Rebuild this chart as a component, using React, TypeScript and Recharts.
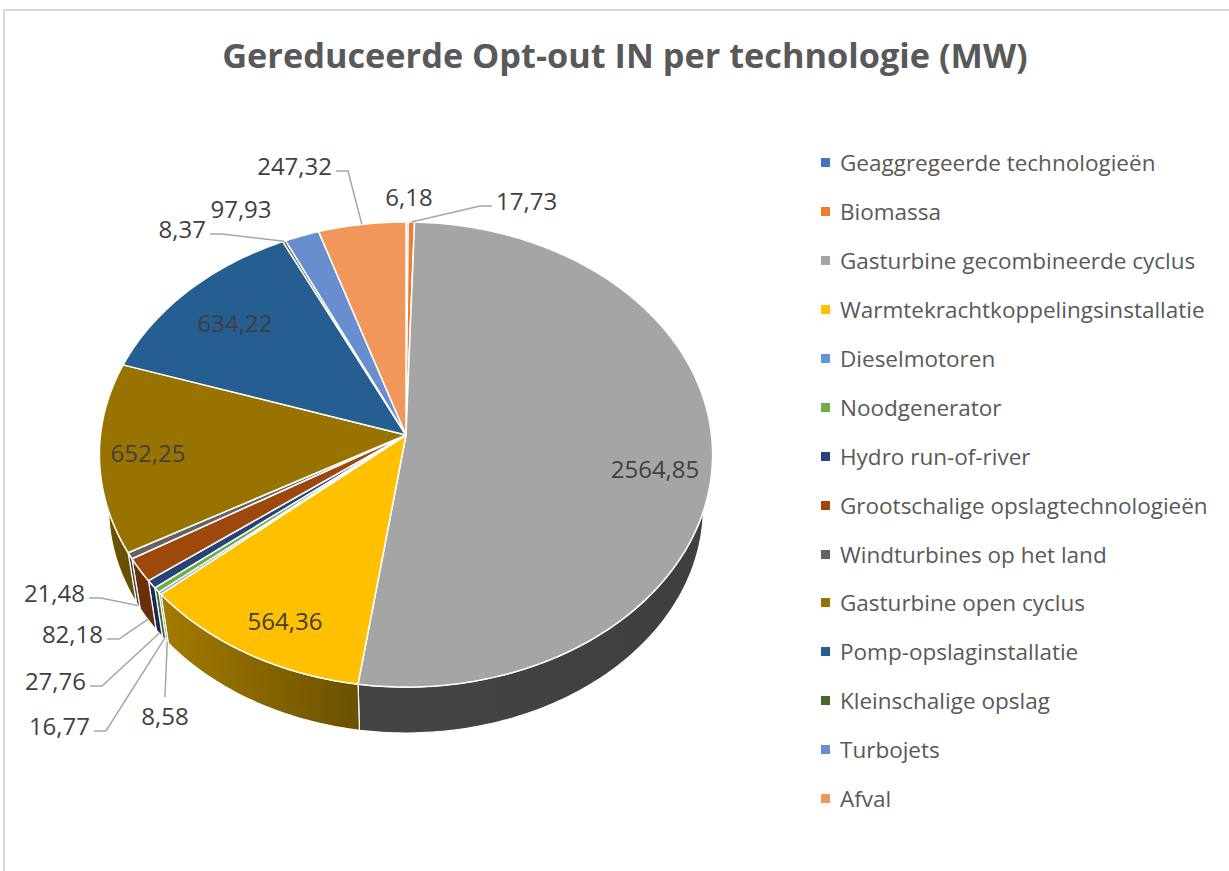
import { PieChart, Pie, Legend } from 'recharts';

const technologies = [
  'Geaggregeerde technologieën',
  'Biomassa',
  'Gasturbine gecombineerde cyclus',
  'Warmtekrachtkoppelingsinstallatie',
  'Dieselmotoren',
  'Noodgenerator',
  'Hydro run-of-river',
  'Grootschalige opslagtechnologieën',
  'Windturbines op het land',
  'Gasturbine open cyclus',
  'Pomp-opslaginstallatie',
  'Kleinschalige opslag',
  'Turbojets',
  'Afval',
];
const capacityMW = [6.18, 17.73, 2564.85, 564.36, 8.58, 16.77, 27.76, 82.18, 21.48, 652.25, 634.22, 8.37, 97.93, 247.32];
const sliceColors = [
  '#4472C4', '#ED7D31', '#A5A5A5', '#FFC000', '#5B9BD5', '#70AD47', '#264478',
  '#9E480E', '#636363', '#997300', '#255E91', '#43682B', '#698ED0', '#F1975A',
];

const rows = technologies.map((name, i) => ({ name, value: capacityMW[i] }));

// where each data label sits, relative to the pie centre (Excel placed them by hand)
type Leader = 'none' | 'start' | 'end' | 'up';
const labelLayout: { dx: number; dy: number; anchor: 'middle' | 'start' | 'end'; leader: Leader }[] = [
  { dx: 3, dy: -239, anchor: 'middle', leader: 'none' },
  { dx: 90, dy: -235, anchor: 'start', leader: 'start' },
  { dx: 249, dy: 33, anchor: 'middle', leader: 'none' },
  { dx: -121, dy: 185, anchor: 'middle', leader: 'none' },
  { dx: -241, dy: 280, anchor: 'middle', leader: 'up' },
  { dx: -316, dy: 290, anchor: 'end', leader: 'end' },
  { dx: -320, dy: 245, anchor: 'end', leader: 'end' },
  { dx: -303, dy: 198, anchor: 'end', leader: 'end' },
  { dx: -321, dy: 157, anchor: 'end', leader: 'end' },
  { dx: -258, dy: 17, anchor: 'middle', leader: 'none' },
  { dx: -171, dy: -113, anchor: 'middle', leader: 'none' },
  { dx: -200, dy: -207, anchor: 'end', leader: 'end' },
  { dx: -165, dy: -227, anchor: 'middle', leader: 'none' },
  { dx: -74, dy: -270, anchor: 'end', leader: 'end' },
];

const FONT = '"Open Sans", sans-serif';
const TILT = 0.7558;
const PERSP = 0.084;
const DEPTH = 53.5;
const BASE_SCALE = 0.97;

const fmt = (v: number) => v.toFixed(2).replace('.', ',');

function shade(hex: string, f: number) {
  const n = parseInt(hex.slice(1), 16);
  const c = [(n >> 16) & 255, (n >> 8) & 255, n & 255].map((v) => Math.round(v * f));
  return `rgb(${c[0]},${c[1]},${c[2]})`;
}

// perspective projection of a point on the pie rim (top or base)
function rim(cx: number, cy: number, r: number, deg: number, base = false): [number, number] {
  const a = (deg * Math.PI) / 180;
  const X = Math.cos(a);
  const Z = Math.sin(a);
  const w = 1 + PERSP * Z;
  const s = base ? BASE_SCALE : 1;
  return [cx + ((r * X) / w) * s, cy + (base ? DEPTH : 0) - ((r * TILT * Z) / w) * s];
}

function arc(cx: number, cy: number, r: number, from: number, to: number, base = false) {
  const n = Math.max(2, Math.ceil(Math.abs(to - from)) + 1);
  const pts: string[] = [];
  for (let k = 0; k < n; k++) {
    const d = from + ((to - from) * k) / (n - 1);
    const [x, y] = rim(cx, cy, r, d, base);
    pts.push(`${x.toFixed(2)},${y.toFixed(2)}`);
  }
  return pts;
}

const renderWall = (p: any) => {
  const { cx, cy, outerRadius, startAngle, endAngle, index } = p;
  const hi = Math.min(startAngle, 0);
  const lo = Math.max(endAngle, -180);
  if (lo >= hi) return <g key={`w${index}`} />;
  const top = arc(cx, cy, outerRadius, hi, lo);
  const bottom = arc(cx, cy, outerRadius, lo, hi, true);
  const id = `wall${index}`;
  const color = sliceColors[index];
  return (
    <g key={id}>
      <defs>
        <linearGradient id={id} gradientUnits="userSpaceOnUse" x1={cx - outerRadius} x2={cx + outerRadius} y1={0} y2={0}>
          <stop offset="0" stopColor={shade(color, 0.72)} />
          <stop offset="0.1" stopColor={shade(color, 0.64)} />
          <stop offset="0.42" stopColor={shade(color, 0.42)} />
          <stop offset="1" stopColor={shade(color, 0.38)} />
        </linearGradient>
      </defs>
      <path d={`M${top.join('L')}L${bottom.join('L')}Z`} fill={`url(#${id})`} stroke="#fff" strokeWidth={1.2} strokeLinejoin="round" />
    </g>
  );
};

const renderTop = (p: any) => {
  const { cx, cy, outerRadius, startAngle, endAngle, index } = p;
  const pts = arc(cx, cy, outerRadius, startAngle, endAngle);
  return (
    <path
      key={`t${index}`}
      d={`M${cx},${cy}L${pts.join('L')}Z`}
      fill={sliceColors[index]}
      stroke="#fff"
      strokeWidth={1.5}
      strokeLinejoin="round"
    />
  );
};

const renderText = (p: any) => {
  const { cx, cy, outerRadius, startAngle, endAngle, index, value } = p;
  const L = labelLayout[index];
  const x = cx + L.dx;
  const y = cy + L.dy;
  const mid = (startAngle + endAngle) / 2;
  const front = Math.sin((mid * Math.PI) / 180) < 0;
  const [ax, ay] = rim(cx, cy, outerRadius, mid, front);
  let line = '';
  if (L.leader === 'end') line = `${x + 4},${y + 6} ${x + 16},${y + 6} ${ax},${ay}`;
  if (L.leader === 'start') line = `${x - 4},${y + 6} ${x - 16},${y + 6} ${ax},${ay}`;
  if (L.leader === 'up') line = `${x},${y - 18} ${ax},${ay}`;
  return (
    <g key={`l${index}`}>
      {line && <polyline points={line} fill="none" stroke="#A6A6A6" strokeWidth={1.5} />}
      <text x={x} y={y} textAnchor={L.anchor} dominantBaseline="central" fontFamily={FONT} fontSize={24} fill="#404040">
        {fmt(value)}
      </text>
    </g>
  );
};

const LegendList = () => (
  <div style={{ fontFamily: FONT, fontSize: 22.5, color: '#595959' }}>
    {technologies.map((name, i) => (
      <div key={name} style={{ height: 48.9, display: 'flex', alignItems: 'center', whiteSpace: 'nowrap' }}>
        <span style={{ width: 9, height: 9, background: sliceColors[i], marginRight: 10, flex: 'none' }} />
        <span>{name}</span>
      </div>
    ))}
  </div>
);

export default function App() {
  const pieProps = {
    data: rows,
    dataKey: 'value',
    nameKey: 'name',
    cx: 406,
    cy: 435,
    outerRadius: 305.5,
    startAngle: 90,
    endAngle: -270,
    fill: 'none',
    stroke: 'none',
    labelLine: false,
    legendType: 'none' as const,
    isAnimationActive: false,
  };

  return (
    <div style={{ position: 'absolute', left: 0, top: 0, width: 1229, height: 871, background: '#fff', overflow: 'hidden' }}>
      <div
        style={{
          position: 'absolute',
          left: 3,
          top: 9,
          width: 1300,
          height: 1000,
          borderLeft: '2px solid #D9D9D9',
          borderTop: '2px solid #D9D9D9',
        }}
      />
      <div
        style={{
          position: 'absolute',
          left: 0,
          width: 1250,
          top: 37.5,
          textAlign: 'center',
          fontFamily: FONT,
          fontWeight: 700,
          fontSize: 34.3,
          lineHeight: 1,
          color: '#595959',
          whiteSpace: 'nowrap',
        }}
      >
        Gereduceerde Opt-out IN per technologie (MW)
      </div>
      <div style={{ position: 'absolute', left: 0, top: 0 }}>
        <PieChart width={1229} height={871} margin={{ top: 0, right: 0, bottom: 0, left: 0 }}>
          <Pie {...pieProps} label={renderWall} />
          <Pie {...pieProps} label={renderTop} />
          <Pie {...pieProps} label={renderText} />
          <Legend
            layout="vertical"
            align="right"
            verticalAlign="top"
            content={() => <LegendList />}
            wrapperStyle={{ left: 821, right: 'auto', top: 138.5, width: 400 }}
          />
        </PieChart>
      </div>
    </div>
  );
}
